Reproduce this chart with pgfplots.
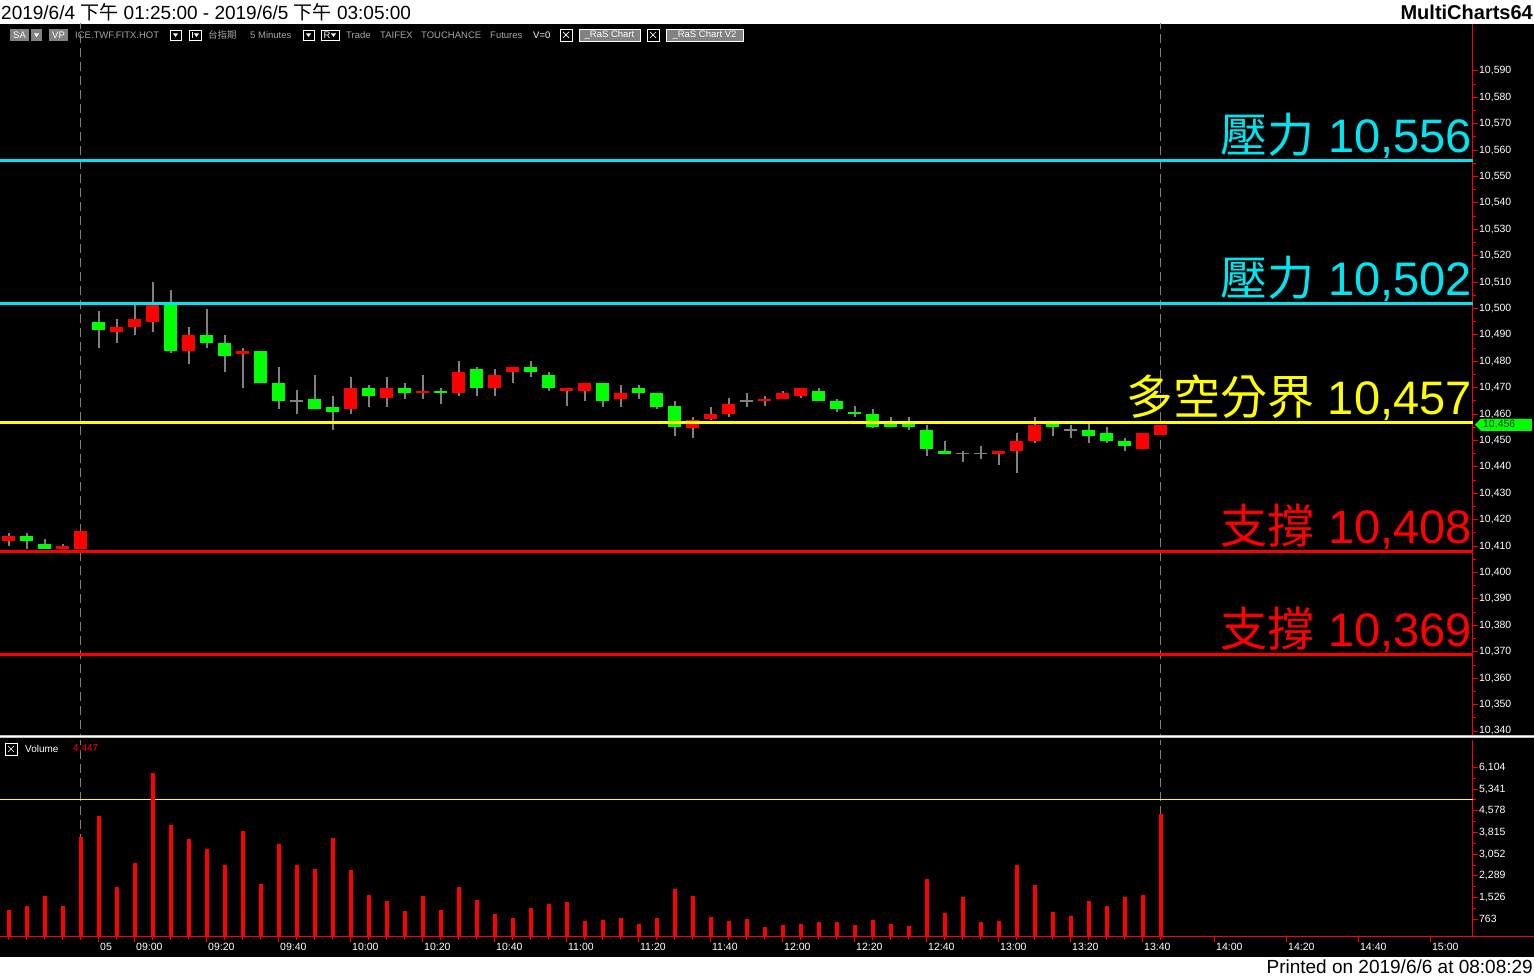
\documentclass[border=0pt]{standalone}
\usepackage{fontspec}
\setmainfont{Liberation Sans}
\newfontfamily\cjk{Noto Sans CJK TC}
\usepackage{pgfplots}
\usepackage{pgfplotstable}
\pgfplotsset{compat=1.18}

\definecolor{cred}{RGB}{255,0,0}
\definecolor{cgreen}{RGB}{0,255,0}
\definecolor{ccyan}{RGB}{0,230,240}
\definecolor{cyel}{RGB}{255,255,0}
\definecolor{wick}{RGB}{128,128,128}
\definecolor{tbgray}{RGB}{165,165,165}
\definecolor{boxgray}{RGB}{130,130,130}

\pgfplotstableread{
i o h l c
0 10412 10415 10410 10414
3 10409 10411 10409 10410
4 10409 10416 10409 10416
6 10491 10496 10487 10493
7 10493 10502 10490 10496
8 10495 10510 10491 10502
10 10484 10493 10479 10490
13 10483 10485 10470 10484
19 10462 10474 10460 10470
21 10466 10474 10463 10470
23 10468 10475 10466 10469
25 10468 10480 10467 10476
27 10470 10477 10467 10475
28 10476 10478 10472 10478
31 10469 10470 10463 10470
32 10469 10472 10465 10472
34 10466 10471 10463 10468
38 10455 10459 10451 10458
39 10458 10463 10458 10460
40 10460 10466 10459 10464
42 10465 10467 10463 10466
43 10466 10469 10466 10468
44 10467 10470 10466 10470
55 10445 10446 10441 10446
56 10446 10453 10438 10450
57 10450 10459 10449 10456
63 10447 10453 10447 10453
64 10452 10456 10452 10456
}\upT

\pgfplotstableread{
i o h l c
1 10414 10415 10409 10412
2 10411 10413 10409 10409
5 10495 10499 10485 10492
9 10502 10507 10483 10484
11 10490 10500 10485 10487
12 10487 10490 10476 10482
14 10484 10484 10472 10472
15 10472 10478 10462 10465
17 10466 10475 10462 10462
18 10463 10467 10454 10461
20 10470 10471 10463 10467
22 10470 10472 10466 10468
24 10469 10470 10464 10468
26 10477 10478 10467 10470
29 10478 10480 10474 10476
30 10475 10476 10469 10470
33 10472 10472 10463 10465
35 10470 10471 10466 10468
36 10468 10468 10462 10463
37 10463 10465 10452 10455
45 10469 10470 10465 10465
46 10465 10466 10461 10462
47 10461 10463 10459 10460
48 10460 10462 10455 10455
49 10457 10459 10455 10455
50 10457 10459 10454 10455
51 10454 10456 10444 10447
52 10446 10450 10445 10445
58 10457 10457 10452 10455
60 10454 10457 10449 10452
61 10453 10455 10449 10450
62 10450 10451 10446 10448
}\downT

\pgfplotstableread{
i o h l c
16 10465 10469 10460 10465
41 10465 10468 10463 10465
53 10445 10446 10442 10445
54 10445 10448 10443 10445
59 10454 10456 10451 10454
}\dojiT

\pgfplotstableread{
i v
0 1089
1 1230
2 1581
3 1230
4 3655
5 4393
6 1898
7 2741
8 5904
9 4076
10 3584
11 3233
12 2671
13 3865
14 2003
15 3409
16 2671
17 2530
18 3619
19 2495
20 1616
21 1406
22 1054
23 1581
24 1089
25 1898
26 1441
27 949
28 808
29 1160
30 1300
31 1370
32 703
33 738
34 808
35 597
36 808
37 1827
38 1581
39 843
40 703
41 773
42 492
43 562
44 597
45 668
46 668
47 562
48 738
49 597
50 527
51 2179
52 984
53 1546
54 668
55 703
56 2671
57 1968
58 1019
59 879
60 1406
61 1230
62 1546
63 1616
64 4447
}\volT

\pgfplotsset{
  wickplot/.style={only marks, mark=*, mark options={draw=none, fill=none}, mark size=0pt, forget plot,
    error bars/.cd, y dir=both, y explicit, error mark=none,
    error bar style={wick, line width=1.2pt, solid}},
  bodyplot/.style={only marks, mark=*, mark options={draw=none, fill=none}, mark size=0pt, forget plot,
    error bars/.cd, y dir=both, y explicit, error mark=none,
    error bar style={#1, line width=13pt, solid}},
}

\newcommand\ddbox[1]{%
  \begin{scope}[xshift=#1pt]
    \draw[white, line width=0.7pt] (0pt,937pt) rectangle (11pt,947pt);
    \fill[white] (3pt,943.5pt) -- (8pt,943.5pt) -- (5.5pt,940pt) -- cycle;
  \end{scope}}
\newcommand\xbox[1]{%
  \begin{scope}[xshift=#1pt]
    \draw[white, line width=0.7pt] (0pt,936pt) rectangle (12pt,948pt);
    \draw[white, line width=0.7pt] (3pt,939pt) -- (9pt,945pt) (3pt,945pt) -- (9pt,939pt);
  \end{scope}}

\begin{document}
\begin{tikzpicture}
\useasboundingbox (0pt,0pt) rectangle (1534pt,977pt);
\fill[white] (0pt,0pt) rectangle (1534pt,977pt);
\fill[black] (0pt,20pt) rectangle (1534pt,953pt);

% header
\node[anchor=west, inner sep=0pt, font=\fontsize{19}{21}\selectfont] at (1pt,965pt)
  {2019/6/4 {\cjk 下午} 01:25:00 - 2019/6/5 {\cjk 下午} 03:05:00};
\node[anchor=east, inner sep=0pt, font=\fontsize{20}{22}\selectfont\bfseries] at (1533pt,965pt) {MultiCharts64};
\node[anchor=east, inner sep=0pt, font=\fontsize{19}{21}\selectfont] at (1533pt,10pt) {Printed on 2019/6/6 at 08:08:29};

% toolbar
\tikzset{tb/.style={anchor=west, inner sep=0pt, font=\fontsize{9.5}{10}\selectfont, text=tbgray}}
\fill[boxgray] (10pt,936pt) rectangle (29pt,948pt);
\node[font=\fontsize{9.5}{10}\selectfont, text=white, inner sep=0pt] at (19.5pt,942pt) {SA};
\fill[boxgray] (31pt,936pt) rectangle (42pt,948pt);
\fill[white] (34pt,943.5pt) -- (39pt,943.5pt) -- (36.5pt,940pt) -- cycle;
\fill[boxgray] (49pt,936pt) rectangle (68pt,948pt);
\node[font=\fontsize{9.5}{10}\selectfont, text=white, inner sep=0pt] at (58.5pt,942pt) {VP};
\node[tb] at (75pt,942pt) {ICE.TWF.FITX.HOT};
\ddbox{170}
\begin{scope}[xshift=189pt]
  \draw[white, line width=0.7pt] (0pt,937pt) rectangle (12pt,947pt);
  \draw[white, line width=0.8pt] (3pt,939pt) -- (3pt,945pt);
  \fill[white] (5pt,943.5pt) -- (10pt,943.5pt) -- (7.5pt,940pt) -- cycle;
\end{scope}
\node[tb] at (208pt,942pt) {\cjk 台指期};
\node[tb] at (250pt,942pt) {5 Minutes};
\ddbox{303}
\begin{scope}[xshift=321pt]
  \draw[white, line width=0.7pt] (0pt,937pt) rectangle (18pt,947pt);
  \node[font=\fontsize{9.5}{10}\selectfont, text=white, inner sep=0pt] at (6pt,942pt) {R};
  \fill[white] (10pt,943.5pt) -- (15pt,943.5pt) -- (12.5pt,940pt) -- cycle;
\end{scope}
\node[tb] at (346pt,942pt) {Trade};
\node[tb] at (380pt,942pt) {TAIFEX};
\node[tb] at (421pt,942pt) {TOUCHANCE};
\node[tb] at (490pt,942pt) {Futures};
\node[tb, text=white] at (533pt,942pt) {V=0};
\xbox{560}
\fill[boxgray] (579pt,936pt) rectangle (640pt,948pt);
\draw[white, line width=0.5pt] (579pt,936pt) rectangle (640pt,948pt);
\node[font=\fontsize{9.5}{10}\selectfont, text=white, inner sep=0pt] at (609.5pt,942pt) {\_RaS Chart};
\xbox{647}
\fill[boxgray] (666pt,936pt) rectangle (743pt,948pt);
\draw[white, line width=0.5pt] (666pt,936pt) rectangle (743pt,948pt);
\node[font=\fontsize{9.5}{10}\selectfont, text=white, inner sep=0pt] at (704.5pt,942pt) {\_RaS Chart V2};

% ===== price panel =====
\begin{axis}[
  scale only axis, width=1473pt, height=713pt,
  at={(0pt,240pt)}, anchor=south west,
  xmin=-0.5, xmax=81.3333, ymin=10337.73, ymax=10607.8,
  clip mode=individual,
  axis x line=none, axis y line*=right,
  axis line style={cred, line width=1pt, -},
  scaled y ticks=false,
  ytick={10340,10350,10360,10370,10380,10390,10400,10410,10420,10430,10440,10450,10460,10470,10480,10490,10500,10510,10520,10530,10540,10550,10560,10570,10580,10590},
  minor y tick num=1,
  tick align=outside, major tick length=5pt, minor tick length=3pt,
  tick style={cred, line width=1pt},
  yticklabel style={font=\fontsize{10.5}{12}\selectfont, text=white, anchor=west, inner sep=0pt, xshift=1pt},
  /pgf/number format/fixed,
  /pgf/number format/precision=0,
  /pgf/number format/1000 sep={,},
  /pgf/number format/assume math mode=true,
]
\addplot[wick, line width=1pt, dash pattern=on 9pt off 5pt, forget plot] coordinates {(4,10330) (4,10610)};
\addplot[wick, line width=1pt, dash pattern=on 9pt off 5pt, forget plot] coordinates {(64,10330) (64,10610)};

\addplot[wickplot] table[x=i, y expr={(\thisrow{h}+\thisrow{l})/2}, y error expr={(\thisrow{h}-\thisrow{l})/2}] {\upT};
\addplot[wickplot] table[x=i, y expr={(\thisrow{h}+\thisrow{l})/2}, y error expr={(\thisrow{h}-\thisrow{l})/2}] {\downT};
\addplot[wickplot] table[x=i, y expr={(\thisrow{h}+\thisrow{l})/2}, y error expr={(\thisrow{h}-\thisrow{l})/2}] {\dojiT};
\addplot[bodyplot=cred] table[x=i, y expr={(\thisrow{o}+\thisrow{c})/2}, y error expr={abs(\thisrow{c}-\thisrow{o})/2}] {\upT};
\addplot[bodyplot=cgreen] table[x=i, y expr={(\thisrow{o}+\thisrow{c})/2}, y error expr={abs(\thisrow{c}-\thisrow{o})/2}] {\downT};
\addplot[only marks, mark=-, mark size=6.5pt, mark options={wick, line width=1.3pt}, forget plot] table[x=i, y=c] {\dojiT};

\addplot[ccyan, line width=3pt, forget plot] coordinates {(-0.5,10556) (81.34,10556)};
\addplot[ccyan, line width=3pt, forget plot] coordinates {(-0.5,10502) (81.34,10502)};
\addplot[cyel, line width=3pt, forget plot] coordinates {(-0.5,10457) (81.34,10457)};
\addplot[cred, line width=3pt, forget plot] coordinates {(-0.5,10408) (81.34,10408)};
\addplot[cred, line width=3pt, forget plot] coordinates {(-0.5,10369) (81.34,10369)};

\tikzset{big/.style={anchor=base east, inner sep=0pt, xshift=-1pt, yshift=8pt, font=\fontsize{47}{50}\selectfont}}
\node[big, text=ccyan] at (axis cs:81.3333,10556) {{\cjk 壓力} 10,556};
\node[big, text=ccyan] at (axis cs:81.3333,10502) {{\cjk 壓力} 10,502};
\node[big, text=cyel] at (axis cs:81.3333,10457) {{\cjk 多空分界} 10,457};
\node[big, text=cred] at (axis cs:81.3333,10408) {{\cjk 支撐} 10,408};
\node[big, text=cred] at (axis cs:81.3333,10369) {{\cjk 支撐} 10,369};

\coordinate (cp) at (axis cs:81.3333,10456);
\end{axis}

% current price marker
\fill[cgreen] ([xshift=2pt]cp) -- ([xshift=8pt,yshift=6pt]cp) -- ([xshift=59pt,yshift=6pt]cp) -- ([xshift=59pt,yshift=-6pt]cp) -- ([xshift=8pt,yshift=-6pt]cp) -- cycle;
\node[anchor=west, inner sep=0pt, font=\fontsize{10.5}{12}\selectfont, text=black!75!green] at ([xshift=10pt]cp) {10,456};

% separator
\fill[black!25] (0pt,238.5pt) rectangle (1534pt,241.5pt);
\draw[white, line width=1pt] (0pt,240pt) -- (1534pt,240pt);

% ===== volume panel =====
\begin{axis}[
  scale only axis, width=1473pt, height=197pt,
  at={(0pt,40pt)}, anchor=south west,
  xmin=-0.5, xmax=81.3333, ymin=140.6, ymax=7063,
  clip mode=individual,
  axis x line*=bottom, axis y line*=right,
  axis line style={cred, line width=1pt, -},
  scaled y ticks=false,
  ytick={763,1526,2289,3052,3815,4578,5341,6104},
  minor y tick num=1,
  xtick={5,7,11,15,19,23,27,31,35,39,43,47,51,55,59,63,67,71,75,79},
  xticklabels={05,09:00,09:20,09:40,10:00,10:20,10:40,11:00,11:20,11:40,12:00,12:20,12:40,13:00,13:20,13:40,14:00,14:20,14:40,15:00},
  minor xtick={0,1,2,3,4,5,6,7,8,9,10,11,12,13,14,15,16,17,18,19,20,21,22,23,24,25,26,27,28,29,30,31,32,33,34,35,36,37,38,39,40,41,42,43,44,45,46,47,48,49,50,51,52,53,54,55,56,57,58,59,60,61,62,63,64},
  tick align=outside, major tick length=5pt, minor tick length=3pt,
  tick style={cred, line width=1pt},
  yticklabel style={font=\fontsize{10.5}{12}\selectfont, text=white, anchor=west, inner sep=0pt, xshift=1pt},
  xticklabel style={font=\fontsize{10.5}{12}\selectfont, text=white, anchor=north west, inner sep=0pt, xshift=1pt, yshift=-1pt},
  /pgf/number format/fixed,
  /pgf/number format/precision=0,
  /pgf/number format/1000 sep={,},
  /pgf/number format/assume math mode=true,
]
\addplot[wick, line width=1pt, dash pattern=on 9pt off 5pt, forget plot] coordinates {(4,0) (4,8000)};
\addplot[wick, line width=1pt, dash pattern=on 9pt off 5pt, forget plot] coordinates {(64,0) (64,8000)};
\addplot[cyel, line width=1pt, forget plot] coordinates {(-0.5,4979) (81.34,4979)};
\addplot[ycomb, cred, line width=3.5pt, mark=none, forget plot] table[x=i, y=v] {\volT};
\end{axis}
\draw[cred, line width=1pt] (1473pt,40pt) -- (1534pt,40pt);

% volume legend
\draw[white, line width=0.7pt] (5pt,222pt) rectangle (17pt,234pt);
\draw[white, line width=0.7pt] (8pt,225pt) -- (14pt,231pt) (8pt,231pt) -- (14pt,225pt);
\node[anchor=west, inner sep=0pt, font=\fontsize{10}{12}\selectfont, text=white] at (25pt,228pt) {Volume};
\node[anchor=west, inner sep=0pt, font=\fontsize{10}{12}\selectfont, text=cred] at (73pt,228pt) {4,447};
\end{tikzpicture}
\end{document}
